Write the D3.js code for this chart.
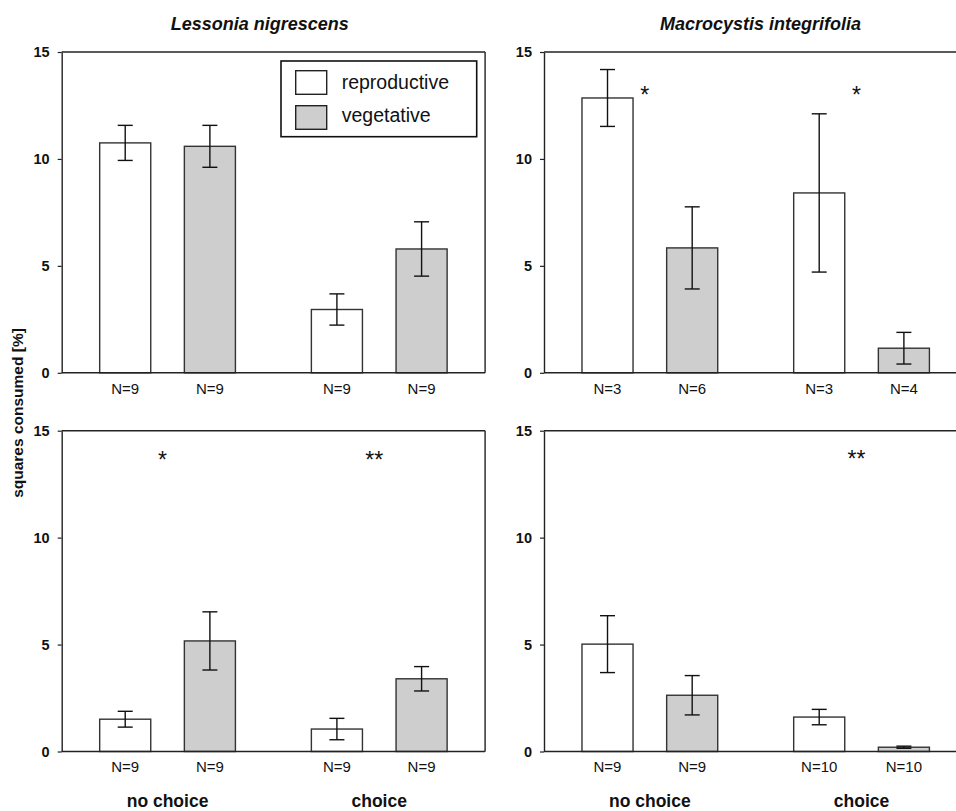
<!DOCTYPE html>
<html>
<head>
<meta charset="utf-8">
<script src="https://cdn.jsdelivr.net/npm/d3@7/dist/d3.min.js"></script>
<style>
  html, body { margin: 0; padding: 0; background: #fff; }
  svg { display: block; font-family: "Liberation Sans", Arial, Helvetica, sans-serif; }
</style>
</head>
<body>
<svg id="chart" width="956" height="811"></svg>
<script>
// ---------- data ----------
const species = ["Lessonia nigrescens", "Macrocystis integrifolia"];
const groups = ["no choice", "choice"];
const series = ["reproductive", "vegetative"];
const yTicks = [0, 5, 10, 15];

// order in each array: [no choice-reproductive, no choice-vegetative, choice-reproductive, choice-vegetative]
const lnTopMean = [10.75, 10.59, 2.96, 5.79];
const lnTopSE   = [0.82, 0.98, 0.73, 1.27];
const lnTopN    = [9, 9, 9, 9];

const miTopMean = [12.85, 5.84, 8.41, 1.15];
const miTopSE   = [1.33, 1.92, 3.70, 0.74];
const miTopN    = [3, 6, 3, 4];

const lnBotMean = [1.51, 5.17, 1.05, 3.40];
const lnBotSE   = [0.37, 1.36, 0.50, 0.57];
const lnBotN    = [9, 9, 9, 9];

const miBotMean = [5.02, 2.63, 1.61, 0.20];
const miBotSE   = [1.33, 0.92, 0.36, 0.05];
const miBotN    = [9, 9, 10, 10];

// significance marks: panel index (0 TL,1 TR,2 BL,3 BR), group index, label, height (value units)
const starPanel = [1, 1, 2, 2, 3];
const starGroup = [0, 1, 0, 1, 1];
const starLabel = ["*", "*", "*", "**", "**"];
const starValue = [13.2, 13.2, 13.85, 13.85, 13.9];

// ---------- layout ----------
const svg = d3.select("#chart");
const colX = [61.7, 544];
const rowY = [52, 430.7];
const plotW = 423.4, plotH = 320.8;
const fillColors = { reproductive: "#ffffff", vegetative: "#cdcecd" };

const panelData = [
  { col: 0, row: 0, mean: lnTopMean, se: lnTopSE, n: lnTopN },
  { col: 1, row: 0, mean: miTopMean, se: miTopSE, n: miTopN },
  { col: 0, row: 1, mean: lnBotMean, se: lnBotSE, n: lnBotN },
  { col: 1, row: 1, mean: miBotMean, se: miBotSE, n: miBotN }
];

const y = d3.scaleLinear().domain([0, 15]).range([plotH, 0]);
const xOuter = d3.scaleBand().domain(groups).range([0, plotW]).paddingInner(0.2).paddingOuter(0.1);
const xInner = d3.scaleBand().domain(series).range([0, xOuter.bandwidth()]).paddingInner(0.397).paddingOuter(0.1985);

panelData.forEach((p, pi) => {
  const g = svg.append("g").attr("transform", `translate(${colX[p.col]},${rowY[p.row]})`);
  const rows = [];
  groups.forEach((gr, gi) => series.forEach((s, si) => {
    const k = gi * 2 + si;
    rows.push({ group: gr, series: s, mean: p.mean[k], se: p.se[k], n: p.n[k] });
  }));
  const cx = d => xOuter(d.group) + xInner(d.series) + xInner.bandwidth() / 2;

  // frame: top and right lines
  g.append("line").attr("x1", 0).attr("x2", plotW).attr("y1", 0).attr("y2", 0)
    .attr("stroke", "#222").attr("stroke-width", 1.4);
  g.append("line").attr("x1", plotW).attr("x2", plotW).attr("y1", 0).attr("y2", plotH)
    .attr("stroke", "#222").attr("stroke-width", 1.4);

  // bars
  g.selectAll("rect.bar").data(rows).enter().append("rect")
    .attr("class", "bar")
    .attr("x", d => xOuter(d.group) + xInner(d.series))
    .attr("width", xInner.bandwidth())
    .attr("y", d => y(d.mean))
    .attr("height", d => y(0) - y(d.mean))
    .attr("fill", d => fillColors[d.series])
    .attr("stroke", "#333").attr("stroke-width", 1.4);

  // error bars
  const cap = 7.5;
  const eb = g.selectAll("g.err").data(rows).enter().append("g").attr("class", "err")
    .attr("stroke", "#111").attr("stroke-width", 1.4);
  eb.append("line").attr("x1", cx).attr("x2", cx)
    .attr("y1", d => y(d.mean + d.se)).attr("y2", d => y(d.mean - d.se));
  eb.append("line").attr("x1", d => cx(d) - cap).attr("x2", d => cx(d) + cap)
    .attr("y1", d => y(d.mean + d.se)).attr("y2", d => y(d.mean + d.se));
  eb.append("line").attr("x1", d => cx(d) - cap).attr("x2", d => cx(d) + cap)
    .attr("y1", d => y(d.mean - d.se)).attr("y2", d => y(d.mean - d.se));

  // y axis
  const ya = g.append("g").call(d3.axisLeft(y).tickValues(yTicks).tickSize(4).tickPadding(8).tickSizeOuter(0));
  ya.select(".domain").attr("stroke", "#222").attr("stroke-width", 1.4);
  ya.selectAll(".tick line").attr("stroke", "#222").attr("stroke-width", 1.2);
  ya.selectAll(".tick text").attr("font-size", 14.5).attr("font-weight", "bold").attr("fill", "#111")
    .attr("font-family", "'Liberation Sans', Arial, sans-serif");

  // x baseline
  g.append("line").attr("x1", 0).attr("x2", plotW).attr("y1", plotH).attr("y2", plotH)
    .attr("stroke", "#222").attr("stroke-width", 1.4);

  // N labels
  g.selectAll("text.n").data(rows).enter().append("text")
    .attr("x", cx).attr("y", plotH + 21)
    .attr("text-anchor", "middle").attr("font-size", 15).attr("fill", "#111")
    .text(d => "N=" + d.n);

  // group labels on bottom row
  if (p.row === 1) {
    g.selectAll("text.grp").data(groups).enter().append("text")
      .attr("x", d => xOuter(d) + xOuter.bandwidth() / 2).attr("y", plotH + 55.5)
      .attr("text-anchor", "middle").attr("font-size", 17.5).attr("font-weight", "bold").attr("fill", "#111")
      .text(d => d);
  }

  // stars
  starPanel.forEach((sp, si) => {
    if (sp !== pi) return;
    g.append("text")
      .attr("x", xOuter(groups[starGroup[si]]) + xOuter.bandwidth() / 2 - 5)
      .attr("y", y(starValue[si]) + 13)
      .attr("text-anchor", "middle").attr("font-size", 23).attr("fill", "#111")
      .text(starLabel[si]);
  });

  // legend in first panel
  if (pi === 0) {
    const lg = g.append("g").attr("transform", `translate(${281 - colX[0]},${61 - rowY[0]})`);
    lg.append("rect").attr("x", 0).attr("y", 0).attr("width", 195.7).attr("height", 75.7)
      .attr("fill", "#fff").attr("stroke", "#111").attr("stroke-width", 1.6);
    series.forEach((s, i) => {
      lg.append("rect").attr("x", 14.7).attr("y", 9.7 + i * 35).attr("width", 31).attr("height", 23.6)
        .attr("fill", fillColors[s]).attr("stroke", "#222").attr("stroke-width", 1.4);
      lg.append("text").attr("x", 60.7).attr("y", 27.5 + i * 33)
        .attr("font-size", 19.5).attr("fill", "#111").text(s);
    });
  }
});

// species titles
const titleX = [259.7, 760.5];
species.forEach((s, i) => {
  svg.append("text").attr("x", titleX[i]).attr("y", 29.5)
    .attr("text-anchor", "middle").attr("font-size", 18).attr("font-weight", "bold")
    .attr("font-style", "italic").attr("fill", "#111").text(s);
});

// y axis title
svg.append("text")
  .attr("transform", "translate(23,413) rotate(-90)")
  .attr("text-anchor", "middle").attr("font-size", 15.5).attr("font-weight", "bold").attr("fill", "#111")
  .text("squares consumed [%]");
</script>
</body>
</html>
